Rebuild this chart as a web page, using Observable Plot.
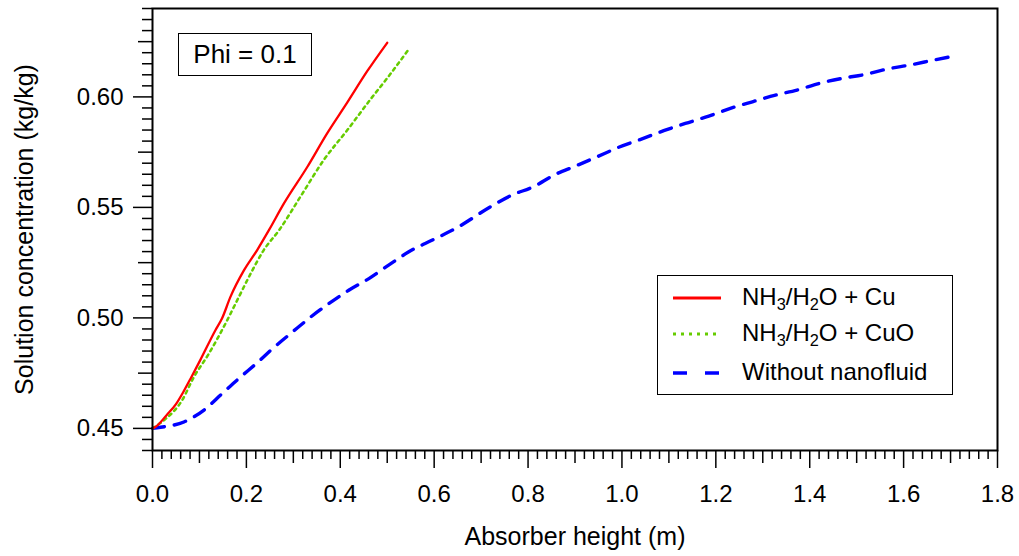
<!DOCTYPE html>
<html>
<head>
<meta charset="utf-8">
<script src="https://cdn.jsdelivr.net/npm/d3@7"></script>
<script src="https://cdn.jsdelivr.net/npm/@observablehq/plot@0.6"></script>
<style>
  html, body { margin: 0; padding: 0; background: #fff; }
  #wrap { position: relative; width: 1019px; height: 556px; font-family: "Liberation Sans", Arial, sans-serif; color: #000; }
  .box { position: absolute; border: 1.5px solid #000; background: #fff; box-sizing: border-box; }
  #phi { left: 178px; top: 33px; width: 134px; height: 43px; font-size: 26px; line-height: 41px; text-align: center; }
  #legend { left: 657px; top: 275px; width: 296px; height: 120px; font-size: 24px; }
  .row { position: absolute; left: 0; height: 30px; width: 100%; }
  .row svg { position: absolute; left: 15px; top: 9px; }
  .row span { position: absolute; left: 84px; top: 0px; line-height: 28px; white-space: nowrap; }
  sub { font-size: 0.68em; vertical-align: -0.28em; line-height: 0; }
</style>
</head>
<body>
<div id="wrap"></div>
<script>
// ---- data ----
const seriesNames = ["NH3/H2O + Cu", "NH3/H2O + CuO", "Without nanofluid"];

const cuX = [0, 0.006, 0.03, 0.05, 0.067, 0.081, 0.102, 0.134, 0.148, 0.166, 0.195, 0.223, 0.248, 0.28, 0.33, 0.372, 0.415, 0.457, 0.5];
const cuY = [0.450, 0.4506, 0.456, 0.461, 0.467, 0.4725, 0.481, 0.4944, 0.4997, 0.5095, 0.5216, 0.5307, 0.5397, 0.5518, 0.5684, 0.5835, 0.5975, 0.6115, 0.6245];

const cuoX = [0, 0.024, 0.063, 0.088, 0.12, 0.159, 0.184, 0.209, 0.237, 0.269, 0.315, 0.365, 0.415, 0.464, 0.5, 0.546];
const cuoY = [0.450, 0.4536, 0.4627, 0.4732, 0.4838, 0.4989, 0.5095, 0.520, 0.5307, 0.5395, 0.5548, 0.5715, 0.585, 0.5988, 0.6085, 0.6216];

const baseX = [0, 0.017, 0.067, 0.109, 0.148, 0.186, 0.223, 0.258, 0.298, 0.337, 0.376, 0.418, 0.461, 0.503, 0.546, 0.6, 0.65, 0.72, 0.766, 0.812, 0.855, 0.901, 0.947, 0.993, 1.04, 1.089, 1.135, 1.185, 1.231, 1.278, 1.327, 1.373, 1.42, 1.469, 1.519, 1.565, 1.615, 1.665, 1.71];
const baseY = [0.450, 0.4505, 0.4529, 0.4582, 0.4657, 0.473, 0.4797, 0.4865, 0.4936, 0.5004, 0.5065, 0.5125, 0.5178, 0.5239, 0.5299, 0.5356, 0.541, 0.5503, 0.5556, 0.5594, 0.5646, 0.5687, 0.5729, 0.5772, 0.5808, 0.5847, 0.588, 0.5913, 0.5948, 0.5978, 0.6008, 0.6031, 0.6061, 0.6084, 0.6102, 0.6126, 0.6145, 0.6167, 0.6186];

const xTickLabels = [0.0, 0.2, 0.4, 0.6, 0.8, 1.0, 1.2, 1.4, 1.6, 1.8];
const yTickLabels = [0.45, 0.50, 0.55, 0.60];

const xLabel = "Absorber height (m)";
const yLabel = "Solution concentration (kg/kg)";
const annotation = "Phi = 0.1";

// ---- build ----
const toRows = (xs, ys) => xs.map((x, i) => ({x, y: ys[i]}));
const cu = toRows(cuX, cuY);
const cuo = toRows(cuoX, cuoY);
const base = toRows(baseX, baseY);

const xMid = d3.range(0.1, 1.8, 0.2).map(v => +v.toFixed(2));
const xMinor = d3.range(0, 1.8001, 0.02).map(v => +v.toFixed(2)).filter(v => Math.abs(v * 10 - Math.round(v * 10)) > 1e-6);
const yMid = d3.range(0.425, 0.64, 0.05).map(v => +v.toFixed(3)).filter(v => v > 0.44);
const yMinor = d3.range(0.44, 0.6401, 0.005).map(v => +v.toFixed(3)).filter(v => Math.abs(v * 40 - Math.round(v * 40)) > 1e-6);

const font = "Liberation Sans, Arial, sans-serif";

const chart = Plot.plot({
  width: 1019,
  height: 556,
  marginLeft: 152,
  marginRight: 22,
  marginTop: 8,
  marginBottom: 106,
  style: {fontFamily: font, fontSize: "24px", color: "#000", background: "#fff"},
  x: {domain: [0, 1.8]},
  y: {domain: [0.44, 0.64]},
  marks: [
    Plot.line(base, {x: "x", y: "y", stroke: "#0000ff", strokeWidth: 3.4, strokeDasharray: "12,10", curve: "monotone-x"}),
    Plot.line(cuo, {x: "x", y: "y", stroke: "#66cc00", strokeWidth: 2.5, strokeDasharray: "3,4", curve: "monotone-x"}),
    Plot.line(cu, {x: "x", y: "y", stroke: "#ff0000", strokeWidth: 2.3, curve: "monotone-x"}),
    Plot.axisX({ticks: xTickLabels, tickSize: 18, tickPadding: 16, tickFormat: d3.format(".1f"), fontSize: 24, label: null, strokeWidth: 1.5}),
    Plot.axisX({ticks: xMid, tickSize: 13, tickFormat: () => "", label: null, strokeWidth: 1.5}),
    Plot.axisX({ticks: xMinor, tickSize: 9, tickFormat: () => "", label: null, strokeWidth: 1.5}),
    Plot.axisY({ticks: yTickLabels, tickSize: 19, tickPadding: 10, tickFormat: d3.format(".2f"), fontSize: 24, label: null, strokeWidth: 1.5}),
    Plot.axisY({ticks: yMid, tickSize: 14, tickFormat: () => "", label: null, strokeWidth: 1.5}),
    Plot.axisY({ticks: yMinor, tickSize: 10, tickFormat: () => "", label: null, strokeWidth: 1.5}),
    Plot.frame({stroke: "#000", strokeWidth: 2}),
    Plot.text([xLabel], {frameAnchor: "bottom", lineAnchor: "middle", dy: 86, fontSize: 25, fill: "#000"}),
    Plot.text([yLabel], {frameAnchor: "left", textAnchor: "middle", lineAnchor: "middle", dx: -128, rotate: -90, fontSize: 25, fill: "#000"})
  ]
});

const wrap = document.getElementById("wrap");
wrap.appendChild(chart);

const phi = document.createElement("div");
phi.id = "phi"; phi.className = "box"; phi.textContent = annotation;
wrap.appendChild(phi);

const legend = document.createElement("div");
legend.id = "legend"; legend.className = "box";
const legendItems = [
  {html: "NH<sub>3</sub>/H<sub>2</sub>O + Cu", stroke: "#ff0000", dash: null, w: 3},
  {html: "NH<sub>3</sub>/H<sub>2</sub>O + CuO", stroke: "#66cc00", dash: "3,5", w: 3},
  {html: "Without nanofluid", stroke: "#0000ff", dash: "14,18", w: 3.4}
];
const rowTops = [7, 43, 82];
legendItems.forEach((it, i) => {
  const row = document.createElement("div");
  row.className = "row"; row.style.top = rowTops[i] + "px";
  row.innerHTML = `<svg width="50" height="12"><line x1="0" x2="48" y1="6" y2="6" stroke="${it.stroke}" stroke-width="${it.w}" ${it.dash ? `stroke-dasharray="${it.dash}"` : ""}/></svg><span>${it.html}</span>`;
  legend.appendChild(row);
});
wrap.appendChild(legend);
</script>
</body>
</html>
